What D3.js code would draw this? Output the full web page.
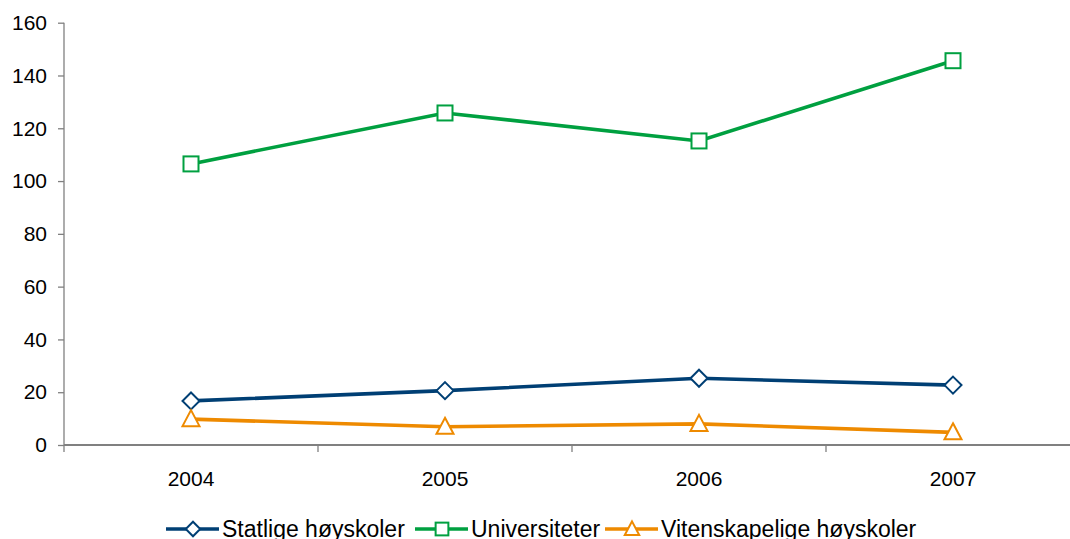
<!DOCTYPE html>
<html><head><meta charset="utf-8">
<script src="https://cdn.jsdelivr.net/npm/d3@7"></script>
<style>body{margin:0;background:#fff}svg{display:block;font-family:"Liberation Sans",Arial,sans-serif}</style>
</head><body><svg id="c" width="1070" height="539"></svg>
<script>
const years = ["2004","2005","2006","2007"];
const statlige = [16.7, 20.6, 25.3, 22.7];
const universiteter = [106.5, 125.8, 115.2, 145.6];
const vitenskapelige = [9.8, 6.9, 8.0, 4.8];
const yTicks = [0,20,40,60,80,100,120,140,160];
const seriesNames = ["Statlige høyskoler","Universiteter","Vitenskapelige høyskoler"];

const series = [
  {name: seriesNames[0], values: statlige, color: "#003F74", marker: "diamond"},
  {name: seriesNames[1], values: universiteter, color: "#00A040", marker: "square"},
  {name: seriesNames[2], values: vitenskapelige, color: "#EE8A00", marker: "triangle"}
];

const svg = d3.select("#c");
const x = d3.scaleBand().domain(years).range([64, 1080]);
const y = d3.scaleLinear().domain([0,160]).range([445, 22.7]);

// y axis
const yAxis = svg.append("g").attr("transform","translate(64,0)")
  .call(d3.axisLeft(y).tickValues(yTicks).tickSize(6).tickPadding(11).tickFormat(d3.format("d")));
yAxis.attr("font-size",null).attr("font-family",null);
yAxis.selectAll("path,line").attr("stroke","#808080").attr("stroke-width",1.3);
yAxis.select("path").attr("d","M0,445V22.7");
yAxis.selectAll("text").style("font-size","21px").attr("fill","#000");

// x axis
const xg = svg.append("g");
xg.append("line").attr("x1",64).attr("x2",1080).attr("y1",445).attr("y2",445).attr("stroke","#808080").attr("stroke-width",2);
const bounds = years.map(d => x(d)).concat([x(years[years.length-1]) + x.bandwidth()]);
xg.selectAll("line.t").data(bounds).enter().append("line").attr("class","t")
  .attr("x1",d=>d).attr("x2",d=>d).attr("y1",445).attr("y2",452).attr("stroke","#808080").attr("stroke-width",1.3);
xg.selectAll("text").data(years).enter().append("text")
  .attr("x",d=>x(d)+x.bandwidth()/2).attr("y",486).attr("text-anchor","middle")
  .style("font-size","21px").attr("fill","#000").text(d=>d);

const cx = d => x(d) + x.bandwidth()/2;
const line = d3.line().x((v,i)=>cx(years[i])).y(v=>y(v));

function drawMarker(g, type, px, py, color, k) {
  k = k || 1;
  if (type === "diamond") {
    const r = 8.5*k;
    g.append("path").attr("d",`M${px},${py-r}L${px+r},${py}L${px},${py+r}L${px-r},${py}Z`)
      .attr("fill","#fff").attr("stroke",color).attr("stroke-width",2);
  } else if (type === "square") {
    const h = 7.5*k;
    g.append("rect").attr("x",px-h).attr("y",py-h).attr("width",2*h).attr("height",2*h)
      .attr("fill","#fff").attr("stroke",color).attr("stroke-width",2);
  } else {
    g.append("path").attr("d",`M${px},${py-9*k}L${px+8.5*k},${py+7*k}L${px-8.5*k},${py+7*k}Z`)
      .attr("fill","#fff").attr("stroke",color).attr("stroke-width",2);
  }
}

series.forEach(s => {
  svg.append("path").datum(s.values).attr("d",line).attr("fill","none")
    .attr("stroke",s.color).attr("stroke-width",3.6);
  const g = svg.append("g");
  s.values.forEach((v,i) => drawMarker(g, s.marker, cx(years[i]), y(v), s.color));
});

// legend
const legX = [166, 415, 605];
const legY = 529;
series.forEach((s,i) => {
  const g = svg.append("g");
  g.append("line").attr("x1",legX[i]).attr("x2",legX[i]+53).attr("y1",legY).attr("y2",legY)
    .attr("stroke",s.color).attr("stroke-width",3.6);
  drawMarker(g, s.marker, legX[i]+27, legY, s.color, 0.85);
  g.append("text").attr("x",legX[i]+56).attr("y",legY+8).style("font-size","23px").attr("fill","#000").text(s.name);
});
</script></body></html>
